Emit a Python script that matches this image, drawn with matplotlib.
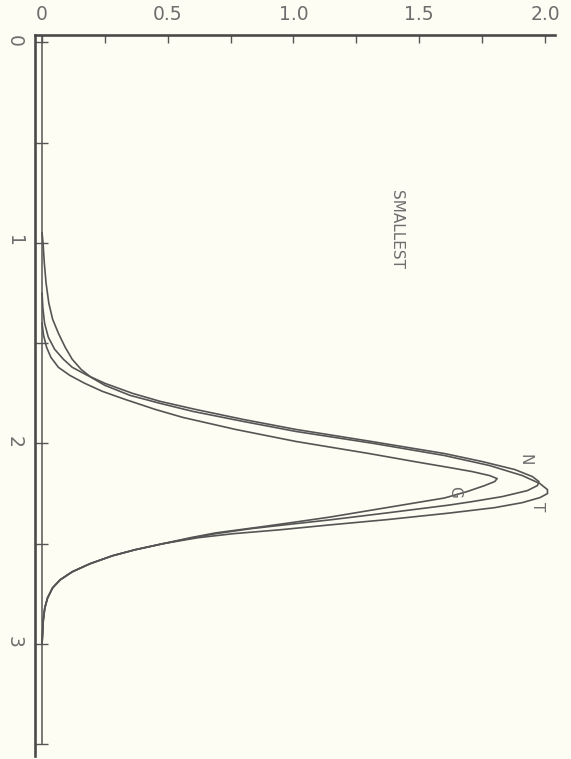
import matplotlib
matplotlib.use("Agg")
import matplotlib.pyplot as plt

# Densidades de la distribucion del minimo (eje girado)
t_x = [0.95, 1.00, 1.10, 1.20, 1.30, 1.38, 1.45, 1.52, 1.58, 1.63, 1.67, 1.71, 1.76, 1.80,
       1.84, 1.89, 1.94, 2.00, 2.06, 2.11, 2.16, 2.20, 2.23, 2.25, 2.27, 2.295, 2.32, 2.347,
       2.38, 2.406, 2.43, 2.45, 2.47]
t_y = [0.0, 0.004, 0.009, 0.016, 0.027, 0.042, 0.065, 0.092, 0.12, 0.155, 0.195, 0.25, 0.35,
       0.47, 0.60, 0.80, 1.01, 1.32, 1.60, 1.78, 1.91, 1.98, 2.01, 2.01, 1.98, 1.91, 1.80,
       1.62, 1.37, 1.145, 0.95, 0.76, 0.62]

n_x = [1.25, 1.32, 1.40, 1.47, 1.53, 1.58, 1.62, 1.66, 1.70, 1.75, 1.79, 1.83, 1.88, 1.93,
       1.99, 2.05, 2.09, 2.13, 2.165, 2.19, 2.21, 2.235, 2.265, 2.29, 2.307, 2.345, 2.381,
       2.405, 2.425, 2.45, 2.47]
n_y = [0.0, 0.003, 0.01, 0.025, 0.05, 0.085, 0.12, 0.18, 0.25, 0.36, 0.47, 0.61, 0.80, 1.01,
       1.31, 1.60, 1.75, 1.88, 1.95, 1.976, 1.97, 1.93, 1.83, 1.71, 1.62, 1.38, 1.145,
       0.97, 0.83, 0.69, 0.60]

g_x = [1.40, 1.46, 1.52, 1.57, 1.62, 1.66, 1.70, 1.74, 1.78, 1.83, 1.87, 1.93, 1.99, 2.05,
       2.09, 2.12, 2.14, 2.16, 2.175, 2.19, 2.21, 2.24, 2.272, 2.32, 2.367, 2.395, 2.416,
       2.446, 2.47]
g_y = [0.0, 0.006, 0.018, 0.035, 0.065, 0.11, 0.17, 0.24, 0.33, 0.45, 0.56, 0.77, 1.01, 1.30,
       1.48, 1.62, 1.71, 1.78, 1.81, 1.80, 1.76, 1.69, 1.60, 1.37, 1.145, 0.99, 0.87,
       0.69, 0.59]

# cola derecha comun a las tres curvas
tail_x = [2.50, 2.53, 2.56, 2.60, 2.64, 2.68, 2.72, 2.77, 2.82, 2.88, 2.95, 3.00]
tail_y = [0.48, 0.37, 0.28, 0.19, 0.12, 0.072, 0.042, 0.022, 0.011, 0.005, 0.002, 0.0]

val_ticks = [0, 0.25, 0.5, 0.75, 1.0, 1.25, 1.5, 1.75, 2.0]
val_labels = ["0", "", "0.5", "", "1.0", "", "1.5", "", "2.0"]
x_ticks = [0, 0.5, 1, 1.5, 2, 2.5, 3, 3.5]
x_labels = ["0", "", "1", "", "2", "", "3", ""]

bg = "#fdfdf3"
line_c = "#555555"
text_c = "#6e6e6e"

fig = plt.figure(figsize=(5.71, 7.59), dpi=100, facecolor=bg)
ax = fig.add_axes([0.0613, 0.0036, 0.9107, 0.9502])
ax.set_facecolor(bg)

# linea base (densidad 0)
ax.plot([0, 0], [-0.037, 3.5], color=line_c, lw=1.1)

for xs, ys in [(t_x, t_y), (n_x, n_y), (g_x, g_y)]:
    ax.plot(ys + tail_y, xs + tail_x, color=line_c, lw=1.2)

ax.set_xlim(-0.028, 2.04)
ax.set_ylim(3.56, -0.037)

for s in ["right", "bottom"]:
    ax.spines[s].set_visible(False)
for s in ["left", "top"]:
    ax.spines[s].set_linewidth(1.9)
    ax.spines[s].set_color("#4a4a4a")

ax.xaxis.tick_top()
ax.set_xticks(val_ticks)
ax.set_xticklabels(val_labels)
ax.set_yticks(x_ticks)
ax.set_yticklabels(x_labels)
ax.tick_params(axis="x", direction="in", length=6, width=1, color="#555555",
               labelsize=13.5, labelcolor=text_c, pad=8)
ax.tick_params(axis="y", direction="in", length=9.5, width=1, color="#555555",
               labelsize=13.5, labelcolor=text_c, pad=8, labelrotation=-90)

ax.text(1.41, 0.935, "SMALLEST", rotation=-90, ha="center", va="center",
        fontsize=11, color=text_c)
ax.text(1.92, 2.08, "N", rotation=-90, ha="center", va="center", fontsize=11, color=text_c)
ax.text(1.972, 2.317, "T", rotation=-90, ha="center", va="center", fontsize=11, color=text_c)
ax.text(1.64, 2.242, "G", rotation=-90, ha="center", va="center", fontsize=11, color=text_c)

fig.savefig("out.png", dpi=100, facecolor=bg)
